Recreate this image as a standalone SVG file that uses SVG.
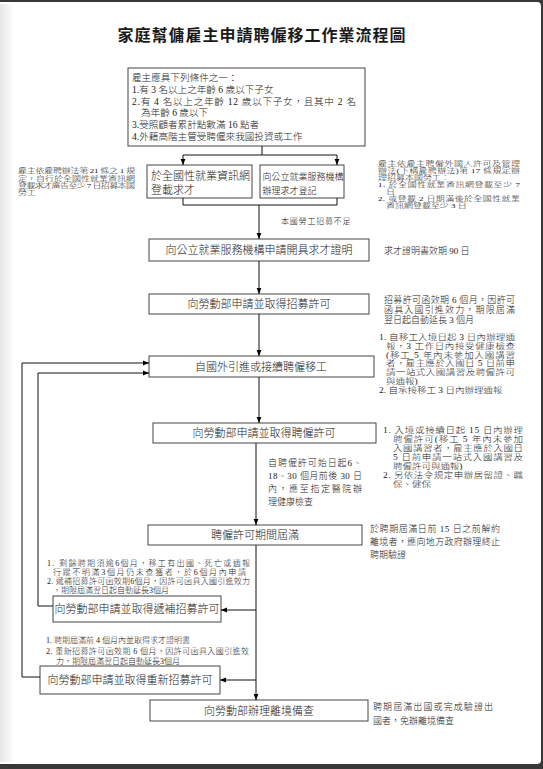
<svg xmlns="http://www.w3.org/2000/svg" width="543" height="769" viewBox="0 0 543 769">
<defs>
<marker id="ah" viewBox="0 0 10 10" refX="10" refY="5" markerWidth="6" markerHeight="6" markerUnits="userSpaceOnUse" orient="auto"><path d="M0,1 L10,5 L0,9 z" fill="#000"/></marker>
<linearGradient id="edge" x1="0" y1="0" x2="1" y2="0"><stop offset="0" stop-color="#e6e6e6"/><stop offset="1" stop-color="#fff"/></linearGradient>
</defs>
<style>
text{font-family:"Liberation Serif","Noto Sans CJK TC","Noto Sans CJK SC",serif;fill:#1a1a1a;font-weight:300}
.box{fill:#fff;stroke:#444;stroke-width:1}
.bt{font-size:11px;text-anchor:middle}
.bl{font-size:11px}
.c1{font-size:9.6px}
.n{font-size:9px}
.m{font-size:9.5px}
.s{font-size:8px}
.ln{fill:none;stroke:#111;stroke-width:1}
.ar{fill:none;stroke:#111;stroke-width:1;marker-end:url(#ah)}
.title{font-size:16px;font-weight:700;text-anchor:middle;letter-spacing:1px}
</style>
<rect x="0" y="0" width="543" height="769" fill="#383838"/>
<rect x="-4" y="2" width="545" height="762" rx="4" fill="#fff"/>
<rect x="0" y="4" width="14" height="758" fill="url(#edge)"/>

<text class="title" x="262" y="41">家庭幫傭雇主申請聘僱移工作業流程圖</text>

<g id="conditions">
<rect class="box" x="128" y="68" width="237" height="78"/>
<text class="c1" x="132" y="81">雇主應具下列條件之一：</text>
<text class="c1" x="132" y="93">1.有 3 名以上之年齡 6 歲以下子女</text>
<text class="c1" x="132" y="105" textLength="224" lengthAdjust="spacing">2.有 4 名以上之年齡 12 歲以下子女，且其中 2 名</text>
<text class="c1" x="141" y="116">為年齡 6 歲以下</text>
<text class="c1" x="132" y="128">3.受照顧者累計點數滿 16 點者</text>
<text class="c1" x="132" y="140">4.外籍高階主管受聘僱來我國投資或工作</text>
</g>

<g id="note-left-top" transform="translate(18,171) scale(1,0.72)">
<text class="n" x="0" y="3.4" textLength="117" lengthAdjust="spacing">雇主依雇聘辦法第 21 條之 1 規</text>
<text class="n" x="0" y="13.54" textLength="117" lengthAdjust="spacing">定，自行於全國性就業資訊網</text>
<text class="n" x="0" y="23.68" textLength="117" lengthAdjust="spacing">登載求才廣告至少 7 日招募本國</text>
<text class="n" x="0" y="33.82">勞工</text>
</g>

<g id="web-post">
<rect class="box" x="147" y="165" width="105" height="33"/>
<text class="bl" x="151" y="180">於全國性就業資訊網</text>
<text class="bl" x="151" y="194">登載求才</text>
</g>

<g id="public-register">
<rect class="box" x="260" y="165" width="84" height="33"/>
<text class="n" x="262.5" y="180">向公立就業服務機構</text>
<text class="n" x="262.5" y="194">辦理求才登記</text>
</g>

<g id="note-right-top" transform="translate(378,164) scale(1,0.7)">
<text class="n" x="0" y="3.4" textLength="142" lengthAdjust="spacing">雇主依雇主聘僱外國人許可及管理</text>
<text class="n" x="0" y="13.4" textLength="142" lengthAdjust="spacing">辦法(下稱雇聘辦法)第 17 條規定辦</text>
<text class="n" x="0" y="23.4">理招募本國勞工：</text>
<text class="n" x="0" y="33.4" textLength="142" lengthAdjust="spacing">1. 於全國性就業資訊網登載至少 7</text>
<text class="n" x="8" y="43.4">日</text>
<text class="n" x="0" y="53.4" textLength="142" lengthAdjust="spacing">2. 或登載 2 日期滿後於全國性就業</text>
<text class="n" x="8" y="63.4">資訊網登載至少 3 日</text>
</g>

<text class="s" x="281" y="224" letter-spacing="0.8">本國勞工招募不足</text>

<g id="cert">
<rect class="box" x="149" y="239" width="220" height="22"/>
<text class="bt" x="259" y="254">向公立就業服務機構申請開具求才證明</text>
<text class="n" x="384" y="254">求才證明書效期 90 日</text>
</g>

<g id="recruit-permit">
<rect class="box" x="149" y="294" width="220" height="20"/>
<text class="bt" x="259" y="308">向勞動部申請並取得招募許可</text>
<text class="n" x="384" y="302.5" textLength="131" lengthAdjust="spacing">招募許可函效期 6 個月，因許可</text>
<text class="n" x="384" y="312.5" textLength="131" lengthAdjust="spacing">函具入國引進效力，期限屆滿</text>
<text class="n" x="384" y="322.5">翌日起自動延長 3 個月</text>
</g>

<g id="import-worker">
<rect class="box" x="149" y="356" width="225" height="21"/>
<text class="bt" x="261" y="370.5">自國外引進或接續聘僱移工</text>
</g>
<g id="note-import" transform="translate(379,337) scale(1,0.83)">
<text class="m" x="0" y="3.6" textLength="136" lengthAdjust="spacing">1. 自移工入境日起 3 日內辦理通</text>
<text class="m" x="7" y="14.2" textLength="129" lengthAdjust="spacing">報，3 工作日內接受健康檢查</text>
<text class="m" x="7" y="24.8" textLength="129" lengthAdjust="spacing">(移工 5 年內未參加入國講習</text>
<text class="m" x="7" y="35.4" textLength="129" lengthAdjust="spacing">者，雇主應於入國日 5 日前申</text>
<text class="m" x="7" y="46" textLength="129" lengthAdjust="spacing">請一站式入國講習及聘僱許可</text>
<text class="m" x="7" y="56.6">與通報)</text>
<text class="m" x="0" y="67.2">2. 自承接移工 3 日內辦理通報</text>
</g>

<g id="employ-permit">
<rect class="box" x="153" y="423" width="223" height="20"/>
<text class="bt" x="264" y="437">向勞動部申請並取得聘僱許可</text>
</g>
<g id="note-employ" transform="translate(383,430) scale(1,0.85)">
<text class="m" x="0" y="3.6" textLength="140" lengthAdjust="spacing">1. 入境或接續日起 15 日內辦理</text>
<text class="m" x="10" y="14.2" textLength="130" lengthAdjust="spacing">聘僱許可(移工 5 年內未參加</text>
<text class="m" x="10" y="24.8" textLength="130" lengthAdjust="spacing">入國講習者，雇主應於入國日</text>
<text class="m" x="10" y="35.4" textLength="130" lengthAdjust="spacing">5 日前申請一站式入國講習及</text>
<text class="m" x="10" y="46">聘僱許可與通報)</text>
<text class="m" x="0" y="56.6" textLength="140" lengthAdjust="spacing">2. 另依法令規定申辦居留證、職</text>
<text class="m" x="10" y="67.2">保、健保</text>
</g>

<g id="note-health">
<text class="n" x="268" y="466.4" textLength="94" lengthAdjust="spacing">自聘僱許可始日起6、</text>
<text class="n" x="268" y="479.4" textLength="94" lengthAdjust="spacing">18、30 個月前後 30 日</text>
<text class="n" x="268" y="492.4" textLength="94" lengthAdjust="spacing">內，應至指定醫院辦</text>
<text class="n" x="268" y="505.4">理健康檢查</text>
</g>

<g id="expire">
<rect class="box" x="148" y="525" width="214" height="20"/>
<text class="bt" x="255" y="539">聘僱許可期間屆滿</text>
<text class="n" x="370" y="532.4" textLength="130" lengthAdjust="spacing">於聘期屆滿日前 15 日之前解約</text>
<text class="n" x="370" y="545.4" textLength="130" lengthAdjust="spacing">離境者，應向地方政府辦理終止</text>
<text class="n" x="370" y="558.4">聘期驗證</text>
</g>

<g id="note-replace">
<text class="s" x="47" y="566" textLength="203" lengthAdjust="spacing">1. 剩餘聘期須逾6個月，移工有出國、死亡或通報</text>
<text class="s" x="53" y="575" textLength="193" lengthAdjust="spacing">行蹤不明滿3個月仍未查獲者，於6個月內申請</text>
<text class="s" x="47" y="584" textLength="203" lengthAdjust="spacing">2. 遞補招募許可函效期6個月，因許可函具入國引進效力</text>
<text class="s" x="53" y="593">，期限屆滿翌日起自動延長3個月</text>
</g>

<g id="replace-permit">
<rect class="box" x="53" y="596" width="168" height="26"/>
<text class="bt" x="137" y="613">向勞動部申請並取得遞補招募許可</text>
</g>

<g id="note-renew">
<text class="s" x="46" y="643">1. 聘期屆滿前 4 個月內並取得求才證明書</text>
<text class="s" x="46" y="654" textLength="203" lengthAdjust="spacing">2. 重新招募許可函效期 6 個月，因許可函具入國引進效</text>
<text class="s" x="56" y="664">力，期限屆滿翌日起自動延長3個月</text>
</g>

<g id="renew-permit">
<rect class="box" x="40" y="666" width="180" height="28"/>
<text class="bt" x="130" y="684">向勞動部申請並取得重新招募許可</text>
</g>

<g id="exit-record">
<rect class="box" x="150" y="700" width="218" height="21"/>
<text class="bt" x="259" y="714.5">向勞動部辦理離境備查</text>
<text class="n" x="373" y="710.4" textLength="120" lengthAdjust="spacing">聘期屆滿出國或完成驗證出</text>
<text class="n" x="373" y="724.4">國者，免辦離境備查</text>
</g>

<g id="connectors">
<path class="ln" d="M262,146 V155 M183,155 H337 M183,198 V205 H337 V198"/>
<path class="ar" d="M183,155 V165"/>
<path class="ar" d="M337,155 V165"/>
<path class="ar" d="M259,205 V239"/>
<path class="ar" d="M259,261 V294"/>
<path class="ar" d="M259,314 V356"/>
<path class="ar" d="M259,377 V423"/>
<path class="ar" d="M256,443 V525"/>
<path class="ar" d="M256,545 V700"/>
<path class="ar" d="M256,610 H221"/>
<path class="ar" d="M256,680 H220"/>
<path class="ar" d="M53,606 H38 V373 H149"/>
<path class="ar" d="M40,677 H22 V363 H149"/>
</g>
</svg>
